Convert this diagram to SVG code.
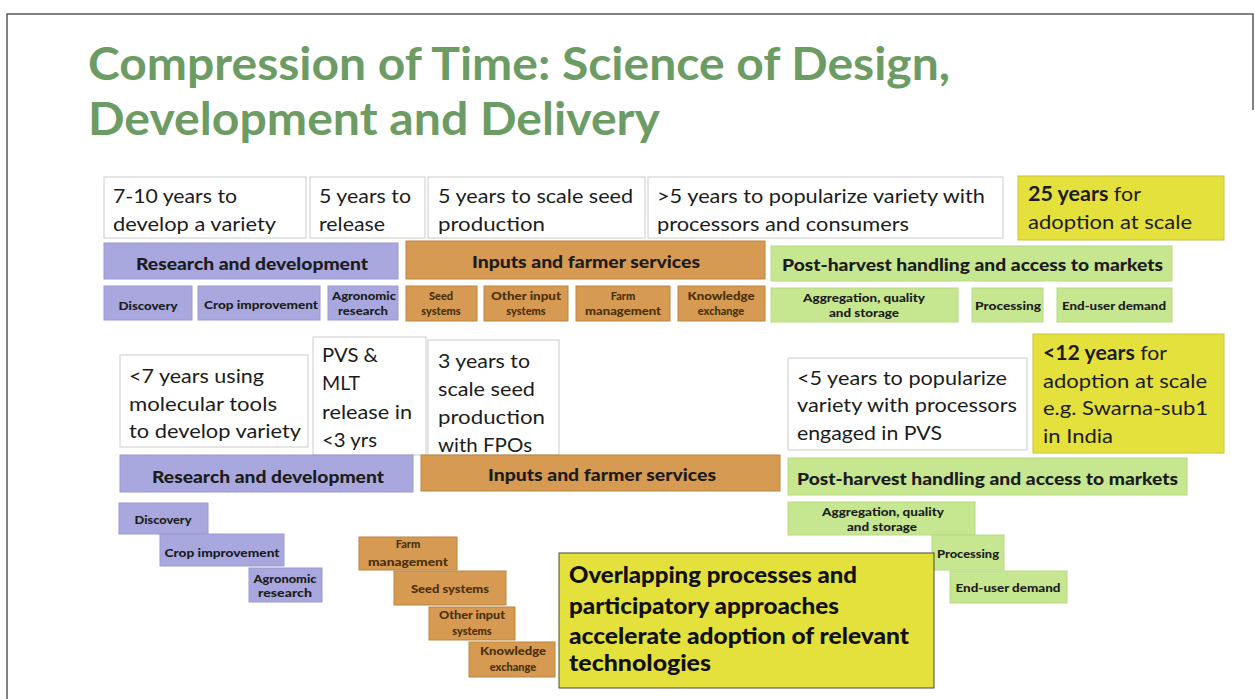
<svg xmlns="http://www.w3.org/2000/svg" width="1255" height="699" viewBox="0 0 1255 699">
  <style>
    .frame { stroke: #5a5a5a; stroke-width: 1.5; fill: none; }
    .box { fill: #ffffff; stroke: #d4d4d4; stroke-width: 1.2; }
    .rd { fill: #a8a8df; stroke: #9a9ad2; stroke-width: 1; }
    .inp { fill: #d69a52; stroke: #b98640; stroke-width: 1; }
    .ph { fill: #c6e790; stroke: #b8da82; stroke-width: 1; }
    .yl { fill: #e4e03c; stroke: #c9c43a; stroke-width: 1; }
    .ylb { fill: #e4e03c; stroke: #4a4a3a; stroke-width: 1; }
    text { font-family: Lato, "Liberation Sans", sans-serif; fill: #1c1c1c; }
    .title { font-size: 46px; font-weight: bold; fill: #6c9c64; }
    .t { font-size: 20px; }
    .b { font-weight: bold; }
    .bar { font-size: 16.5px; font-weight: 900; }
    .sm { font-size: 11px; font-weight: 900; }
    .smo { font-size: 11px; font-weight: 900; fill: #4a300c; }
    .big { font-size: 23px; font-weight: 900; fill: #111; }
  </style>

  <rect x="0" y="0" width="1255" height="699" fill="#ffffff"/>

  <!-- slide frame -->
  <path class="frame" d="M7,699 V14 H1253 V110"/>

  <!-- title -->
  <g id="title">
    <text class="title" x="88" y="80" textLength="862" lengthAdjust="spacingAndGlyphs">Compression of Time: Science of Design,</text>
    <text class="title" x="88" y="135" textLength="572" lengthAdjust="spacingAndGlyphs">Development and Delivery</text>
  </g>

  <!-- ===== conventional timeline ===== -->
  <g id="dev-time-1">
    <rect class="box" x="104" y="177" width="202" height="61"/>
    <text class="t" x="113" y="203" textLength="124" lengthAdjust="spacingAndGlyphs">7-10 years to</text>
    <text class="t" x="113" y="231" textLength="163" lengthAdjust="spacingAndGlyphs">develop a variety</text>
  </g>
  <g id="release-time-1">
    <rect class="box" x="310" y="177" width="115" height="61"/>
    <text class="t" x="319" y="203" textLength="92" lengthAdjust="spacingAndGlyphs">5 years to</text>
    <text class="t" x="319" y="231" textLength="66" lengthAdjust="spacingAndGlyphs">release</text>
  </g>
  <g id="seed-time-1">
    <rect class="box" x="428" y="177" width="217" height="61"/>
    <text class="t" x="438" y="203" textLength="195" lengthAdjust="spacingAndGlyphs">5 years to scale seed</text>
    <text class="t" x="438" y="231" textLength="107" lengthAdjust="spacingAndGlyphs">production</text>
  </g>
  <g id="popularize-time-1">
    <rect class="box" x="648" y="177" width="355" height="61"/>
    <text class="t" x="657" y="203" textLength="328" lengthAdjust="spacingAndGlyphs">&gt;5 years to popularize variety with</text>
    <text class="t" x="657" y="231" textLength="252" lengthAdjust="spacingAndGlyphs">processors and consumers</text>
  </g>
  <g id="adoption-1">
    <rect class="yl" x="1018" y="176" width="206" height="64"/>
    <text class="t" x="1028" y="201" textLength="113" lengthAdjust="spacingAndGlyphs"><tspan class="b">25 years</tspan> for</text>
    <text class="t" x="1028" y="229" textLength="164" lengthAdjust="spacingAndGlyphs">adoption at scale</text>
  </g>

  <g id="rd-bar-1">
    <rect class="rd" x="104" y="243" width="294" height="36"/>
    <text class="bar" x="136" y="270" textLength="232" lengthAdjust="spacingAndGlyphs">Research and development</text>
  </g>
  <g id="inputs-bar-1">
    <rect class="inp" x="406" y="241" width="359" height="38"/>
    <text class="bar" x="472" y="268" textLength="228" lengthAdjust="spacingAndGlyphs">Inputs and farmer services</text>
  </g>
  <g id="ph-bar-1">
    <rect class="ph" x="771" y="246" width="401" height="35"/>
    <text class="bar" x="782" y="271" textLength="381" lengthAdjust="spacingAndGlyphs">Post-harvest handling and access to markets</text>
  </g>

  <g id="discovery-1">
    <rect class="rd" x="104" y="286" width="88" height="34"/>
    <text class="sm" x="148" y="310" text-anchor="middle" textLength="59" lengthAdjust="spacingAndGlyphs">Discovery</text>
  </g>
  <g id="crop-1">
    <rect class="rd" x="198" y="286" width="122" height="34"/>
    <text class="sm" x="261" y="309" text-anchor="middle" textLength="114" lengthAdjust="spacingAndGlyphs">Crop improvement</text>
  </g>
  <g id="agronomic-1">
    <rect class="rd" x="328" y="286" width="70" height="34"/>
    <text class="sm" x="364" y="300" text-anchor="middle" textLength="64" lengthAdjust="spacingAndGlyphs">Agronomic</text>
    <text class="sm" x="363" y="315" text-anchor="middle" textLength="50" lengthAdjust="spacingAndGlyphs">research</text>
  </g>
  <g id="seed-1">
    <rect class="inp" x="406" y="286" width="71" height="35"/>
    <text class="smo" x="441" y="300" text-anchor="middle">Seed</text>
    <text class="smo" x="441" y="315" text-anchor="middle">systems</text>
  </g>
  <g id="other-input-1">
    <rect class="inp" x="484" y="286" width="84" height="35"/>
    <text class="smo" x="526" y="300" text-anchor="middle" textLength="70" lengthAdjust="spacingAndGlyphs">Other input</text>
    <text class="smo" x="526" y="315" text-anchor="middle">systems</text>
  </g>
  <g id="farm-1">
    <rect class="inp" x="576" y="286" width="94" height="35"/>
    <text class="smo" x="623" y="300" text-anchor="middle">Farm</text>
    <text class="smo" x="623" y="315" text-anchor="middle" textLength="76" lengthAdjust="spacingAndGlyphs">management</text>
  </g>
  <g id="knowledge-1">
    <rect class="inp" x="678" y="286" width="87" height="35"/>
    <text class="smo" x="721" y="300" text-anchor="middle" textLength="67" lengthAdjust="spacingAndGlyphs">Knowledge</text>
    <text class="smo" x="721" y="315" text-anchor="middle">exchange</text>
  </g>
  <g id="aggregation-1">
    <rect class="ph" x="771" y="288" width="187" height="34"/>
    <text class="sm" x="864" y="302" text-anchor="middle" textLength="122" lengthAdjust="spacingAndGlyphs">Aggregation, quality</text>
    <text class="sm" x="864" y="317" text-anchor="middle" textLength="70" lengthAdjust="spacingAndGlyphs">and storage</text>
  </g>
  <g id="processing-1">
    <rect class="ph" x="972" y="288" width="71" height="34"/>
    <text class="sm" x="1008" y="310" text-anchor="middle" textLength="66" lengthAdjust="spacingAndGlyphs">Processing</text>
  </g>
  <g id="enduser-1">
    <rect class="ph" x="1057" y="288" width="115" height="34"/>
    <text class="sm" x="1114" y="310" text-anchor="middle" textLength="104" lengthAdjust="spacingAndGlyphs">End-user demand</text>
  </g>

  <!-- ===== compressed timeline ===== -->
  <g id="dev-time-2">
    <rect class="box" x="120" y="355" width="188" height="92"/>
    <text class="t" x="129" y="383" textLength="135" lengthAdjust="spacingAndGlyphs">&lt;7 years using</text>
    <text class="t" x="129" y="411" textLength="148" lengthAdjust="spacingAndGlyphs">molecular tools</text>
    <text class="t" x="129" y="438" textLength="172" lengthAdjust="spacingAndGlyphs">to develop variety</text>
  </g>
  <g id="release-time-2">
    <rect class="box" x="313" y="337" width="113" height="118"/>
    <text class="t" x="322" y="362" textLength="56" lengthAdjust="spacingAndGlyphs">PVS &amp;</text>
    <text class="t" x="322" y="390" textLength="38" lengthAdjust="spacingAndGlyphs">MLT</text>
    <text class="t" x="322" y="419" textLength="90" lengthAdjust="spacingAndGlyphs">release in</text>
    <text class="t" x="322" y="447" textLength="55" lengthAdjust="spacingAndGlyphs">&lt;3 yrs</text>
  </g>
  <g id="seed-time-2">
    <rect class="box" x="428" y="340" width="131" height="115"/>
    <text class="t" x="438" y="368" textLength="92" lengthAdjust="spacingAndGlyphs">3 years to</text>
    <text class="t" x="438" y="396" textLength="97" lengthAdjust="spacingAndGlyphs">scale seed</text>
    <text class="t" x="438" y="424" textLength="107" lengthAdjust="spacingAndGlyphs">production</text>
    <text class="t" x="438" y="452" textLength="94" lengthAdjust="spacingAndGlyphs">with FPOs</text>
  </g>
  <g id="popularize-time-2">
    <rect class="box" x="788" y="358" width="239" height="92"/>
    <text class="t" x="797" y="385" textLength="210" lengthAdjust="spacingAndGlyphs">&lt;5 years to popularize</text>
    <text class="t" x="797" y="412" textLength="220" lengthAdjust="spacingAndGlyphs">variety with processors</text>
    <text class="t" x="797" y="440" textLength="145" lengthAdjust="spacingAndGlyphs">engaged in PVS</text>
  </g>
  <g id="adoption-2">
    <rect class="yl" x="1033" y="334" width="191" height="119"/>
    <text class="t" x="1043" y="360" textLength="124" lengthAdjust="spacingAndGlyphs"><tspan class="b">&lt;12 years</tspan> for</text>
    <text class="t" x="1043" y="388" textLength="164" lengthAdjust="spacingAndGlyphs">adoption at scale</text>
    <text class="t" x="1043" y="415" textLength="165" lengthAdjust="spacingAndGlyphs">e.g. Swarna-sub1</text>
    <text class="t" x="1043" y="443" textLength="70" lengthAdjust="spacingAndGlyphs">in India</text>
  </g>

  <g id="rd-bar-2">
    <rect class="rd" x="120" y="455" width="293" height="37"/>
    <text class="bar" x="152" y="483" textLength="232" lengthAdjust="spacingAndGlyphs">Research and development</text>
  </g>
  <g id="inputs-bar-2">
    <rect class="inp" x="421" y="455" width="359" height="36"/>
    <text class="bar" x="488" y="481" textLength="228" lengthAdjust="spacingAndGlyphs">Inputs and farmer services</text>
  </g>
  <g id="ph-bar-2">
    <rect class="ph" x="788" y="458" width="399" height="37"/>
    <text class="bar" x="797" y="485" textLength="381" lengthAdjust="spacingAndGlyphs">Post-harvest handling and access to markets</text>
  </g>

  <!-- staircase: research and development -->
  <g id="discovery-2">
    <rect class="rd" x="119" y="503" width="89" height="31"/>
    <text class="sm" x="163" y="524" text-anchor="middle" textLength="57" lengthAdjust="spacingAndGlyphs">Discovery</text>
  </g>
  <g id="crop-2">
    <rect class="rd" x="160" y="534" width="124" height="32"/>
    <text class="sm" x="222" y="557" text-anchor="middle" textLength="115" lengthAdjust="spacingAndGlyphs">Crop improvement</text>
  </g>
  <g id="agronomic-2">
    <rect class="rd" x="249" y="568" width="73" height="34"/>
    <text class="sm" x="285" y="583" text-anchor="middle" textLength="63" lengthAdjust="spacingAndGlyphs">Agronomic</text>
    <text class="sm" x="285" y="597" text-anchor="middle" textLength="54" lengthAdjust="spacingAndGlyphs">research</text>
  </g>

  <!-- staircase: inputs and farmer services -->
  <g id="farm-2">
    <rect class="inp" x="359" y="537" width="98" height="33"/>
    <text class="smo" x="408" y="548" text-anchor="middle">Farm</text>
    <text class="smo" x="408" y="566" text-anchor="middle" textLength="80" lengthAdjust="spacingAndGlyphs">management</text>
  </g>
  <g id="seed-2">
    <rect class="inp" x="394" y="571" width="112" height="34"/>
    <text class="smo" x="450" y="593" text-anchor="middle" textLength="78" lengthAdjust="spacingAndGlyphs">Seed systems</text>
  </g>
  <g id="other-input-2">
    <rect class="inp" x="429" y="607" width="86" height="33"/>
    <text class="smo" x="472" y="619" text-anchor="middle" textLength="66" lengthAdjust="spacingAndGlyphs">Other input</text>
    <text class="smo" x="472" y="635" text-anchor="middle">systems</text>
  </g>
  <g id="knowledge-2">
    <rect class="inp" x="469" y="642" width="86" height="35"/>
    <text class="smo" x="513" y="655" text-anchor="middle" textLength="66" lengthAdjust="spacingAndGlyphs">Knowledge</text>
    <text class="smo" x="513" y="671" text-anchor="middle">exchange</text>
  </g>

  <!-- staircase: post-harvest -->
  <g id="aggregation-2">
    <rect class="ph" x="788" y="502" width="187" height="33"/>
    <text class="sm" x="883" y="516" text-anchor="middle" textLength="122" lengthAdjust="spacingAndGlyphs">Aggregation, quality</text>
    <text class="sm" x="882" y="531" text-anchor="middle" textLength="70" lengthAdjust="spacingAndGlyphs">and storage</text>
  </g>
  <g id="processing-2">
    <rect class="ph" x="932" y="535" width="72" height="35"/>
    <text class="sm" x="968" y="558" text-anchor="middle" textLength="62" lengthAdjust="spacingAndGlyphs">Processing</text>
  </g>
  <g id="enduser-2">
    <rect class="ph" x="950" y="571" width="117" height="32"/>
    <text class="sm" x="1008" y="592" text-anchor="middle" textLength="105" lengthAdjust="spacingAndGlyphs">End-user demand</text>
  </g>

  <!-- key message -->
  <g id="message">
    <rect class="ylb" x="559" y="553" width="375" height="135"/>
    <text class="big" x="569" y="583" textLength="288" lengthAdjust="spacingAndGlyphs">Overlapping processes and</text>
    <text class="big" x="569" y="614" textLength="270" lengthAdjust="spacingAndGlyphs">participatory approaches</text>
    <text class="big" x="569" y="644" textLength="340" lengthAdjust="spacingAndGlyphs">accelerate adoption of relevant</text>
    <text class="big" x="569" y="671" textLength="142" lengthAdjust="spacingAndGlyphs">technologies</text>
  </g>
</svg>
